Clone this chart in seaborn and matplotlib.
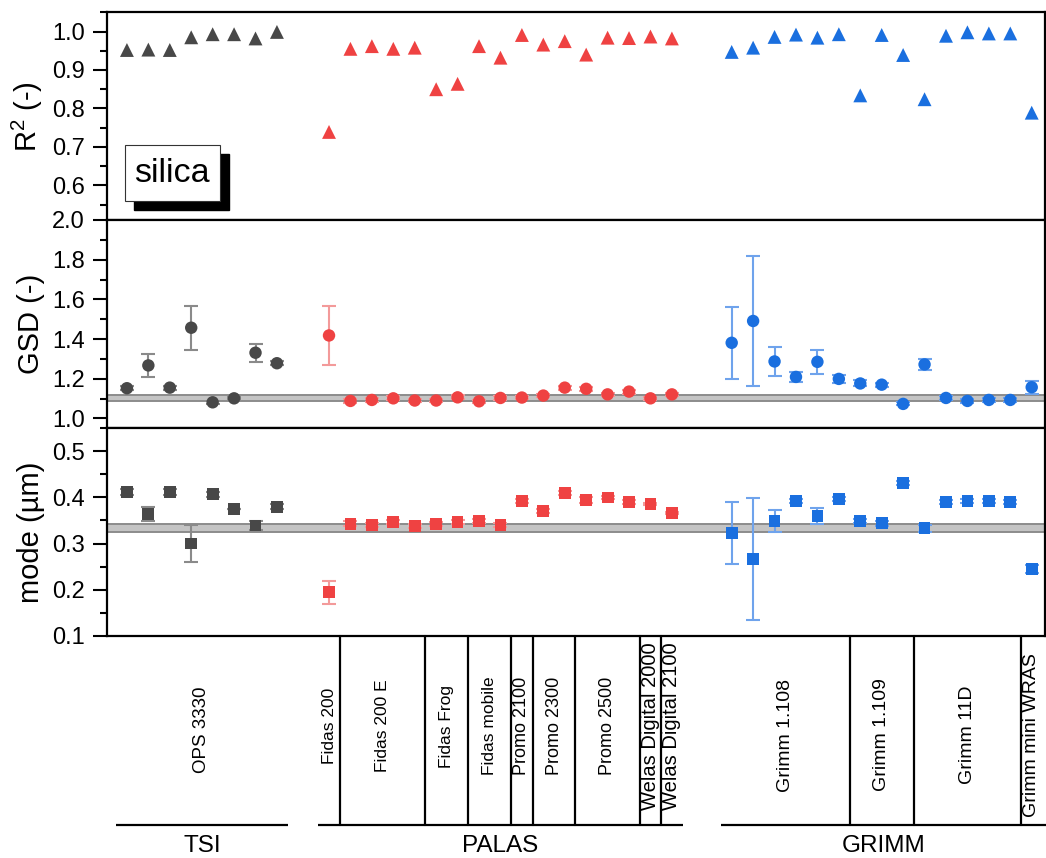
import numpy as np
import pandas as pd
import matplotlib
matplotlib.use("Agg")
import matplotlib.pyplot as plt
import seaborn as sns
from matplotlib.patches import Rectangle
from matplotlib.ticker import MultipleLocator, FormatStrFormatter

# ---------------- data ----------------
groups = ["TSI", "PALAS", "GRIMM"]
instruments = {
    "TSI": [("OPS 3330", 8)],
    "PALAS": [("Fidas 200", 1), ("Fidas 200 E", 4), ("Fidas Frog", 2), ("Fidas mobile", 2),
              ("Promo 2100", 1), ("Promo 2300", 2), ("Promo 2500", 3),
              ("Welas Digital 2000", 1), ("Welas Digital 2100", 1)],
    "GRIMM": [("Grimm 1.108", 6), ("Grimm 1.109", 3), ("Grimm 11D", 5), ("Grimm mini WRAS", 1)],
}

r2_tsi = [0.952, 0.953, 0.952, 0.985, 0.993, 0.993, 0.982, 0.999]
r2_palas = [0.739, 0.955, 0.962, 0.955, 0.958, 0.850, 0.864, 0.962, 0.932, 0.991,
            0.966, 0.975, 0.940, 0.984, 0.983, 0.987, 0.982]
r2_grimm = [0.947, 0.958, 0.986, 0.992, 0.984, 0.993, 0.834, 0.991, 0.939, 0.824,
            0.989, 0.998, 0.995, 0.995, 0.789]

gsd_tsi = [1.152, 1.267, 1.155, 1.457, 1.081, 1.101, 1.331, 1.278]
gsd_err_tsi = [0.010, 0.058, 0.010, 0.110, 0.008, 0.005, 0.045, 0.010]
gsd_palas = [1.418, 1.088, 1.093, 1.101, 1.090, 1.090, 1.106, 1.086, 1.103, 1.105,
             1.115, 1.155, 1.149, 1.121, 1.135, 1.101, 1.121]
gsd_err_palas = [0.150, 0.008, 0.008, 0.010, 0.008, 0.008, 0.010, 0.006, 0.008, 0.008,
                 0.008, 0.010, 0.010, 0.008, 0.010, 0.006, 0.008]
gsd_grimm = [1.381, 1.491, 1.287, 1.209, 1.285, 1.199, 1.176, 1.170, 1.073, 1.272,
             1.103, 1.088, 1.093, 1.093, 1.157]
gsd_err_grimm = [0.180, 0.330, 0.074, 0.025, 0.060, 0.020, 0.015, 0.010, 0.008, 0.028,
                 0.008, 0.008, 0.008, 0.008, 0.033]

mode_tsi = [0.412, 0.364, 0.412, 0.300, 0.407, 0.375, 0.339, 0.380]
mode_err_tsi = [0.006, 0.015, 0.006, 0.040, 0.005, 0.000, 0.010, 0.005]
mode_palas = [0.194, 0.343, 0.340, 0.347, 0.338, 0.342, 0.347, 0.349, 0.340, 0.392,
              0.370, 0.410, 0.394, 0.400, 0.390, 0.386, 0.366]
mode_err_palas = [0.025, 0.005, 0.004, 0.005, 0.004, 0.005, 0.005, 0.004, 0.004, 0.005,
                  0.004, 0.005, 0.006, 0.004, 0.004, 0.003, 0.003]
mode_grimm = [0.323, 0.266, 0.349, 0.392, 0.360, 0.397, 0.349, 0.344, 0.431, 0.333,
              0.390, 0.392, 0.392, 0.390, 0.244]
mode_err_grimm = [0.068, 0.133, 0.024, 0.005, 0.018, 0.005, 0.005, 0.005, 0.004, 0.007,
                  0.005, 0.005, 0.005, 0.004, 0.009]

gsd_ref = (1.09, 1.12)
mode_ref = (0.325, 0.342)

# ---------------- layout / style ----------------
group_start = {"TSI": 0.0, "PALAS": 9.43, "GRIMM": 28.22}
colors = {"TSI": "#484848", "PALAS": "#EF4242", "GRIMM": "#1A6FDF"}
err_colors = {"TSI": "#8a8a8a", "PALAS": "#F39A9A", "GRIMM": "#6FA3EC"}
label_size = {"OPS 3330": 13.5, "Fidas 200": 12.5, "Fidas 200 E": 12.5, "Fidas Frog": 12.5,
              "Fidas mobile": 12.5, "Promo 2100": 13, "Promo 2300": 13, "Promo 2500": 13,
              "Welas Digital 2000": 14.5, "Welas Digital 2100": 14.5, "Grimm 1.108": 14,
              "Grimm 1.109": 14, "Grimm 11D": 14, "Grimm mini WRAS": 14}
label_center_px = {"PALAS": 726, "TSI": 730, "GRIMM": 735}

rows = []
vals = {
    "TSI": (r2_tsi, gsd_tsi, gsd_err_tsi, mode_tsi, mode_err_tsi),
    "PALAS": (r2_palas, gsd_palas, gsd_err_palas, mode_palas, mode_err_palas),
    "GRIMM": (r2_grimm, gsd_grimm, gsd_err_grimm, mode_grimm, mode_err_grimm),
}
for g in groups:
    names = [n for n, c in instruments[g] for _ in range(c)]
    r2, gsd, gsde, md, mde = vals[g]
    for i, n in enumerate(names):
        rows.append(dict(group=g, instrument=n, x=group_start[g] + i, r2=r2[i],
                         gsd=gsd[i], gsd_err=gsde[i], mode=md[i], mode_err=mde[i]))
df = pd.DataFrame(rows)

sns.set_theme(style="ticks")
plt.rcParams["font.family"] = ["Liberation Sans", "DejaVu Sans"]
plt.rcParams["mathtext.fontset"] = "custom"
plt.rcParams["mathtext.rm"] = "Liberation Sans"
plt.rcParams["mathtext.it"] = "Liberation Sans:italic"
plt.rcParams["axes.linewidth"] = 1.6

W, H = 1046, 858
fig = plt.figure(figsize=(W / 100, H / 100), dpi=100)


def px_axes(x0, y0, x1, y1):
    return fig.add_axes([x0 / W, 1 - y1 / H, (x1 - x0) / W, (y1 - y0) / H])


ax1 = px_axes(107, 12.3, 1045, 220)
ax2 = px_axes(107, 220, 1045, 428.3)
ax3 = px_axes(107, 428.3, 1045, 635.7)
axb = px_axes(107, 635.7, 1045, 858)

xlim = (-0.93, 42.84)
for ax in (ax1, ax2, ax3, axb):
    ax.set_xlim(*xlim)

# reference bands
for ax, (lo, hi) in ((ax2, gsd_ref), (ax3, mode_ref)):
    ax.axhspan(lo, hi, color="#c4c4c4", zorder=0, lw=0)
    ax.axhline(lo, color="#8c8c8c", lw=1.4, zorder=0.5)
    ax.axhline(hi, color="#8c8c8c", lw=1.4, zorder=0.5)

# R2 triangles
sns.scatterplot(data=df, x="x", y="r2", hue="group", palette=colors, marker="^",
                s=100, linewidth=0, legend=False, ax=ax1, zorder=3)

# GSD & mode with error bars
for ax, col, ecol, mk, s in ((ax2, "gsd", "gsd_err", "o", 80), (ax3, "mode", "mode_err", "s", 72)):
    for g in groups:
        sub = df[df.group == g]
        ax.errorbar(sub.x, sub[col], yerr=sub[ecol], fmt="none", ecolor=err_colors[g],
                    elinewidth=1.5, capsize=4.8, capthick=1.5, zorder=2)
    sns.scatterplot(data=df, x="x", y=col, hue="group", palette=colors, marker=mk,
                    s=s, linewidth=0, legend=False, ax=ax, zorder=3)

# axes styling
ax1.set_ylim(0.51, 1.05)
ax1.yaxis.set_major_locator(MultipleLocator(0.1))
ax1.yaxis.set_minor_locator(MultipleLocator(0.05))
ax2.set_ylim(0.95, 2.0)
ax2.yaxis.set_major_locator(MultipleLocator(0.2))
ax2.yaxis.set_minor_locator(MultipleLocator(0.1))
ax3.set_ylim(0.1, 0.55)
ax3.yaxis.set_major_locator(MultipleLocator(0.1))
ax3.yaxis.set_minor_locator(MultipleLocator(0.05))

ylabels = {ax1: "R$^2$ (-)", ax2: "GSD (-)", ax3: "mode (µm)"}
for ax in (ax1, ax2, ax3):
    ax.yaxis.set_major_formatter(FormatStrFormatter("%.1f"))
    ax.tick_params(axis="y", which="major", length=10, width=1.5, labelsize=17, pad=6,
                   direction="out", color="black", labelcolor="black")
    ax.tick_params(axis="y", which="minor", length=5, width=1.5, direction="out", color="black")
    ax.tick_params(axis="x", bottom=False, labelbottom=False)
    ax.set_xlabel("")
    ax.set_ylabel(ylabels[ax], fontsize=21, color="black")
    for sp in ax.spines.values():
        sp.set_visible(True)
        sp.set_color("black")
        sp.set_linewidth(1.6)
    ax.yaxis.set_label_coords(-0.066, 0.5)

# silica label box with shadow
def fig_rect(x0, y0, x1, y1, **kw):
    fig.patches.append(Rectangle((x0 / W, 1 - y1 / H), (x1 - x0) / W, (y1 - y0) / H,
                                 transform=fig.transFigure, **kw))

fig_rect(134, 154, 229, 210, facecolor="black", edgecolor="black", zorder=5)
fig_rect(125, 145, 219.5, 200.7, facecolor="white", edgecolor="#333333", lw=0.8, zorder=6)
fig.text(172.2 / W, 1 - 174 / H, "silica", fontsize=24.5, ha="center", va="center",
         color="black", zorder=7)

# bottom bracket axis
axb.set_ylim(0, 1)
axb.axis("off")
hb = 858 - 635.7
line_y = (858 - 825) / hb
group_y = (858 - 846) / hb
line_end = {"TSI": None, "PALAS": None, "GRIMM": xlim[1] + 0.05}
for g in groups:
    sub = df[df.group == g]
    start = sub.x.min() - 0.5
    end = sub.x.max() + 0.5 if line_end[g] is None else line_end[g]
    axb.plot([start, end], [line_y, line_y], color="black", lw=1.6, clip_on=False,
             solid_capstyle="butt")
    axb.text((start + end) / 2, group_y, g, ha="center", va="center", fontsize=17.5,
             color="black")
    names = [n for n, c in instruments[g]]
    ly = (858 - label_center_px[g]) / hb
    for k, n in enumerate(names):
        xs = sub[sub.instrument == n].x
        axb.text(xs.mean(), ly, n, rotation=90, ha="center", va="center",
                 fontsize=label_size[n], color="black")
        if k > 0:
            b = xs.min() - 0.5
            axb.plot([b, b], [line_y, 1.0], color="black", lw=1.6, clip_on=False)

fig.savefig("out.png", dpi=100)
